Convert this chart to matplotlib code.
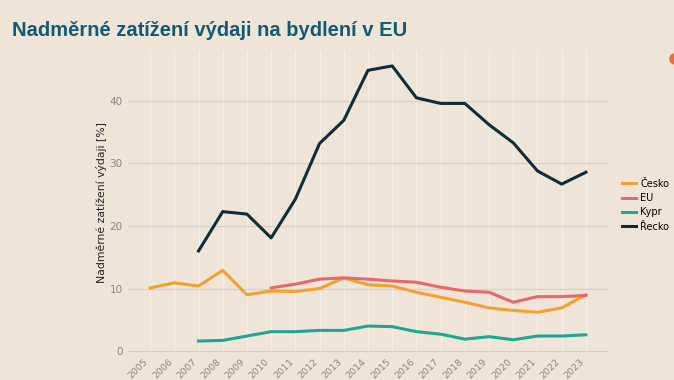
import matplotlib
matplotlib.use("Agg")
import matplotlib.pyplot as plt
import matplotlib.transforms as mtrans
from matplotlib.patches import Ellipse

# data
years = list(range(2005, 2024))
cesko = [10.1, 10.9, 10.4, 12.9, 9.0, 9.6, 9.5, 10.0, 11.7, 10.6, 10.4,
         9.4, 8.6, 7.8, 6.9, 6.5, 6.2, 6.9, 9.0]
eu_years = list(range(2010, 2024))
eu = [10.1, 10.7, 11.5, 11.7, 11.5, 11.2, 11.0, 10.2, 9.6, 9.4, 7.8,
      8.7, 8.7, 8.9]
kypr_years = list(range(2007, 2024))
kypr = [1.6, 1.7, 2.4, 3.1, 3.1, 3.3, 3.3, 4.0, 3.9, 3.1, 2.7, 1.9,
        2.3, 1.8, 2.4, 2.4, 2.6]
recko_years = list(range(2007, 2024))
recko = [16.0, 22.3, 21.9, 18.1, 24.3, 33.2, 36.9, 44.9, 45.6, 40.5,
         39.6, 39.6, 36.2, 33.3, 28.8, 26.7, 28.6]
y_ticks = [0, 10, 20, 30, 40]

bg = "#EFE4D8"
fig = plt.figure(figsize=(6.74, 3.80), dpi=100, facecolor=bg)
ax = fig.add_axes([0.190, 0.068, 0.712, 0.798], facecolor=bg)

ax.plot(years, cesko, color="#F2A12E", lw=2.2, label="Česko")
ax.plot(eu_years, eu, color="#E8676A", lw=2.2, label="EU")
ax.plot(kypr_years, kypr, color="#1FA596", lw=2.2, label="Kypr")
ax.plot(recko_years, recko, color="#0F2D38", lw=2.2, label="Řecko")

ax.set_xlim(2004.09, 2023.91)
ax.set_ylim(-0.5, 48.0)
ax.set_xticks(years)
ax.set_xticklabels([str(y) for y in years], rotation=45, ha="right",
                   fontsize=6.8, color="#8C8680")
shift = mtrans.ScaledTranslation(3 / 100, 0, fig.dpi_scale_trans)
for lab in ax.get_xticklabels():
    lab.set_transform(lab.get_transform() + shift)
ax.set_yticks(y_ticks)
ax.set_yticklabels([str(v) for v in y_ticks], fontsize=7.5, color="#8C8680")
ax.tick_params(length=0, pad=4)
ax.tick_params(axis="x", pad=2)
ax.grid(axis="y", color="#D8D0C6", lw=0.9)
ax.grid(axis="x", color="#F6F0EA", lw=0.8)
ax.set_axisbelow(True)
for s in ax.spines.values():
    s.set_visible(False)
ax.set_ylabel("Nadměrné zatížení výdaji [%]", fontsize=7.8, color="#222222",
              labelpad=2)

fig.text(0.018, 0.905, "Nadměrné zatížení výdaji na bydlení v EU",
         fontsize=14.5, fontweight="bold", color="#125A73",
         family="Liberation Sans")

leg = fig.legend(loc="upper left", bbox_to_anchor=(0.920, 0.535),
                 frameon=False, fontsize=7.0, handlelength=1.45,
                 labelspacing=0.45, handletextpad=0.4, borderaxespad=0,
                 borderpad=0.2)
for line in leg.get_lines():
    line.set_linewidth(2.2)

# small orange circle cut by the right edge of the slide
fig.patches.append(Ellipse((1.0, 0.845), 0.012, 0.025, transform=fig.transFigure,
                           color="#E8703F", figure=fig))

fig.savefig("out.png", dpi=100, facecolor=bg)
